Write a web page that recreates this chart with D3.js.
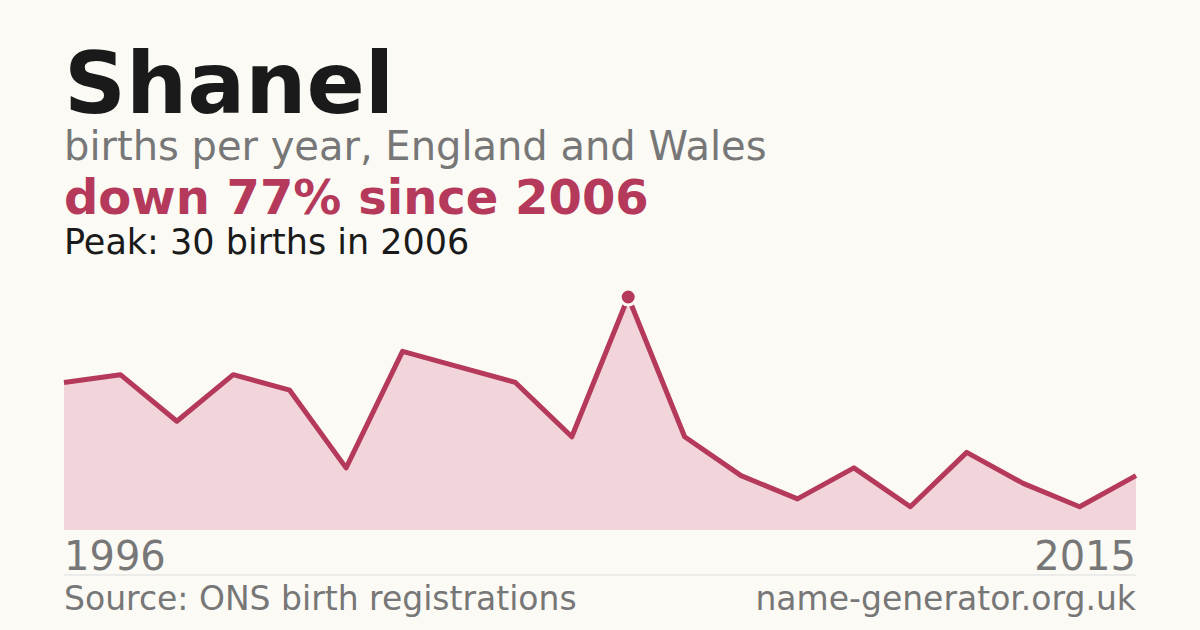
<!DOCTYPE html>
<html><head><meta charset="utf-8">
<script src="https://cdn.jsdelivr.net/npm/d3@7"></script>
<style>body{margin:0;background:#fbfaf5}svg{display:block}text{font-family:"DejaVu Sans",sans-serif}</style>
</head><body><svg id="c" width="1200" height="630"></svg>
<script>
const years = d3.range(1996, 2016);
const births = [19,20,14,20,18,8,23,21,19,12,30,12,7,4,8,3,10,6,3,7];
const svg = d3.select("#c");
svg.append("rect").attr("width",1200).attr("height",630).attr("fill","#fbfaf5");
const x = d3.scaleLinear().domain([1996,2015]).range([64,1136]);
const y = d3.scaleLinear().domain([0,30]).range([530,297]);
const data = years.map((yr,i)=>({yr,v:births[i]}));
svg.append("path").datum(data).attr("fill","#f2d5da")
 .attr("d",d3.area().x(d=>x(d.yr)).y0(y(0)).y1(d=>y(d.v)));
svg.append("path").datum(data).attr("fill","none").attr("stroke","#b5395a").attr("stroke-width",5)
 .attr("stroke-linejoin","round").attr("d",d3.line().x(d=>x(d.yr)).y(d=>y(d.v)));
const pk = data[d3.maxIndex(data,d=>d.v)];
svg.append("circle").attr("cx",x(pk.yr)).attr("cy",y(pk.v)).attr("r",8).attr("fill","#b5395a").attr("stroke","#fbfaf5").attr("stroke-width",3);
const t=(s,xx,yy,size,fill,weight,anchor)=>svg.append("text").text(s).attr("x",xx).attr("y",yy)
 .attr("font-size",size).attr("fill",fill).attr("font-weight",weight||"normal").attr("text-anchor",anchor||"start");
t("Shanel",64,113,86,"#1a1a1a","bold");
t("births per year, England and Wales",64,160,40,"#777");
t("down 77% since 2006",64,214,48,"#b5395a","bold");
t("Peak: 30 births in 2006",64,254,35,"#1a1a1a");
t("1996",64,570,40,"#777");
t("2015",1136,570,40,"#777",null,"end");
svg.append("line").attr("x1",64).attr("x2",1136).attr("y1",575).attr("y2",575).attr("stroke","#ddd");
t("Source: ONS birth registrations",64,610,33,"#777");
t("name-generator.org.uk",1136,610,33,"#777",null,"end");
</script></body></html>
